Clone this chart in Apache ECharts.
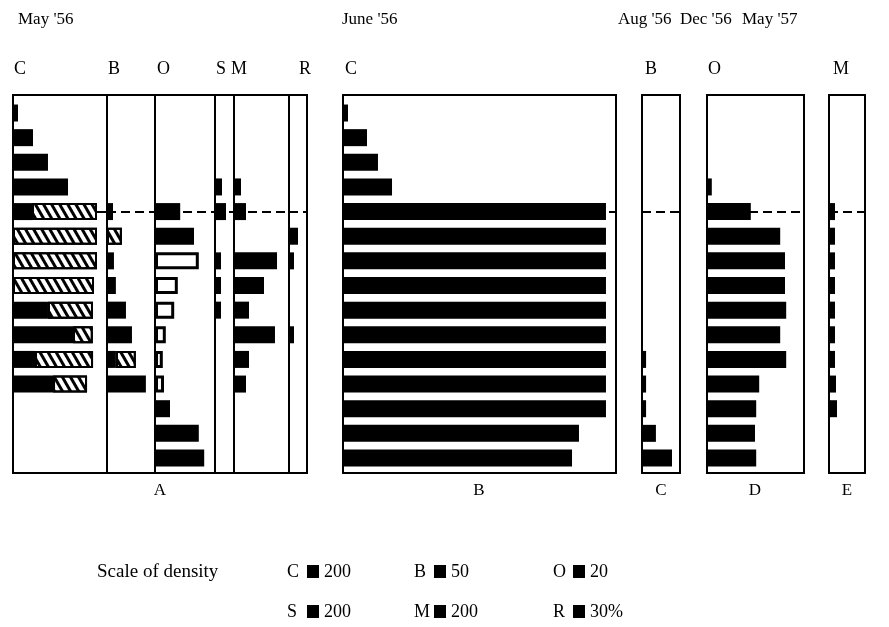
<!DOCTYPE html>
<html><head><meta charset="utf-8">
<script src="https://cdn.jsdelivr.net/npm/echarts@6/dist/echarts.min.js"></script>
<style>html,body{margin:0;padding:0;background:#fff}#c{width:889px;height:627px}</style>
</head><body><div id="c"></div><script>
const rows = ['L1','L2','L3','L4','L5','L6','L7','L8','L9','L10','L11','L12','L13','L14','L15'];
const markRow = 'L5';
const dates = ["May '56", "June '56", "Aug '56", "Dec '56", "May '57"];
const panelLetters = ['A', 'B', 'C', 'D', 'E'];
const scaleTaxa = ['C', 'B', 'O', 'S', 'M', 'R'];
const scaleValues = [200, 50, 20, 200, 200, 30];
const scaleUnits = ['', '', '', '', '', '%'];

// May '56 (panel A)
const mayC        = [83, 333, 583, 917, 317, null, null, null, 583, 1000, 367, 667, null, null, null];
const mayCHatched = [null, null, null, null, 1083, 1400, 1400, 1350, 750, 330, 967, 567, null, null, null];
const mayB        = [null, null, null, null, 25, null, 29, 37, 79, 104, 37, 162, null, null, null];
const mayBHatched = [null, null, null, null, null, 62, null, null, null, null, 83, null, null, null, null];
const mayO        = [null, null, null, null, 42, 65, null, null, null, null, null, null, 25, 73, 82];
const mayOHollow  = [null, null, null, null, null, null, 73, 38, 32, 18, 13, 15, null, null, null];
const mayS        = [null, null, null, 117, 183, null, 100, 100, 100, null, null, null, null, null, null];
const mayM        = [null, null, null, 117, 200, null, 717, 500, 250, 683, 250, 200, null, null, null];
const mayR        = [null, null, null, null, null, 22.5, 12.5, null, null, 12.5, null, null, null, null, null];
// June '56 (panel B), C
const juneC  = [83, 400, 583, 817, 4383, 4383, 4383, 4383, 4383, 4383, 4383, 4383, 4383, 3933, 3817];
// Aug '56 (panel C), B
const augB   = [null, null, null, null, null, null, null, null, null, null, 17, 17, 17, 58, 125];
// Dec '56 (panel D), O
const decO   = [null, null, null, 8, 73, 122, 130, 130, 132, 122, 132, 87, 82, 80, 82];
// May '57 (panel E), M
const may57M = [null, null, null, null, 100, 100, 100, 100, 100, 100, 100, 117, 133, null, null];

// ---- layout ----
const SQ_W = 12, SQ_H = 13;          // legend square (px) = one scale unit
const FRAME_TOP = 95, FRAME_H = 378;
const DATA_TOP = 100.7, DATA_H = 369.6;
const FONT = '"Liberation Serif", "Times New Roman", serif';

const styles = {
  solid:  { color: '#000' },
  hatch:  { color: '#fff', borderColor: '#000', borderWidth: 2,
            decal: { symbol: 'rect', symbolSize: 1, dashArrayX: [1, 0], dashArrayY: [3, 4],
                     rotation: Math.PI / 3, color: '#000' } },
  hollow: { color: '#fff', borderColor: '#000', borderWidth: 3 }
};

const cols = [
  { l: 13,  r: 107, scale: 200, parts: [[mayC, 'solid'], [mayCHatched, 'hatch']] },
  { l: 107, r: 155, scale: 50,  parts: [[mayB, 'solid'], [mayBHatched, 'hatch']] },
  { l: 155, r: 215, scale: 20,  parts: [[mayO, 'solid'], [mayOHollow, 'hollow']] },
  { l: 215, r: 234, scale: 200, parts: [[mayS, 'solid']] },
  { l: 234, r: 289, scale: 200, parts: [[mayM, 'solid']] },
  { l: 289, r: 307, scale: 30,  parts: [[mayR, 'solid']] },
  { l: 343, r: 616, scale: 200, parts: [[juneC, 'solid']] },
  { l: 642, r: 680, scale: 50,  parts: [[augB, 'solid']] },
  { l: 707, r: 804, scale: 20,  parts: [[decO, 'solid']] },
  { l: 829, r: 865, scale: 200, parts: [[may57M, 'solid']] }
];

const grid = [], xAxis = [], yAxis = [], series = [];
const N = cols.length;
cols.forEach((c, i) => {
  grid.push({ left: c.l, width: c.r - c.l, top: DATA_TOP, height: DATA_H });
  xAxis.push({ type: 'value', gridIndex: i, min: 0, max: (c.r - c.l) * c.scale / SQ_W, show: false });
  yAxis.push({ type: 'category', gridIndex: i, data: rows, inverse: true, show: false });
  c.parts.forEach((p, k) => {
    const s = { type: 'bar', xAxisIndex: i, yAxisIndex: i, stack: 'st' + i, barWidth: 17,
                data: p[0], itemStyle: styles[p[1]], z: 3, silent: true };
    if (k === 0) s.markLine = { silent: true, z: 1, symbol: 'none', label: { show: false },
        lineStyle: { color: '#000', width: 2, type: [9, 5] }, data: [{ yAxis: markRow }] };
    series.push(s);
  });
});
cols.forEach((c, i) => {
  grid.push({ left: c.l, width: c.r - c.l, top: FRAME_TOP, height: FRAME_H, show: true,
              borderColor: '#000', borderWidth: 2, backgroundColor: 'transparent', z: 4 });
  xAxis.push({ type: 'value', gridIndex: N + i, show: false });
  yAxis.push({ type: 'value', gridIndex: N + i, show: false });
});

// ---- text ----
const graphic = [];
function txt(t, x, y, size, align) {
  graphic.push({ type: 'text', x: x, y: y,
    style: { text: t, font: size + 'px ' + FONT, fill: '#000', textAlign: align || 'left', textVerticalAlign: 'middle' } });
}
const dateX = [18, 342, 618, 680, 742];
dates.forEach((d, i) => txt(d, dateX[i], 20, 17));
const colLetters = [['C', 14], ['B', 108], ['O', 157], ['S', 216], ['M', 231], ['R', 299],
                    ['C', 345], ['B', 645], ['O', 708], ['M', 833]];
colLetters.forEach(p => txt(p[0], p[1], 69, 18));
const panelCenters = [160, 479, 661, 755, 847];
panelLetters.forEach((p, i) => txt(p, panelCenters[i], 491, 17, 'center'));

txt('Scale of density', 97, 572, 19);
const legX = [287, 414, 553], legY = [572, 612];
scaleTaxa.forEach((t, i) => {
  const x = legX[i % 3], y = legY[Math.floor(i / 3)];
  txt(t, x, y, 18);
  graphic.push({ type: 'rect', x: x + 20, y: y - 7, shape: { width: SQ_W, height: SQ_H }, style: { fill: '#000' } });
  txt(scaleValues[i] + scaleUnits[i], x + 37, y, 18);
});

const chart = echarts.init(document.getElementById('c'), null, { renderer: 'canvas' });
chart.setOption({ backgroundColor: '#fff', animation: false, grid, xAxis, yAxis, series, graphic });
</script></body></html>
